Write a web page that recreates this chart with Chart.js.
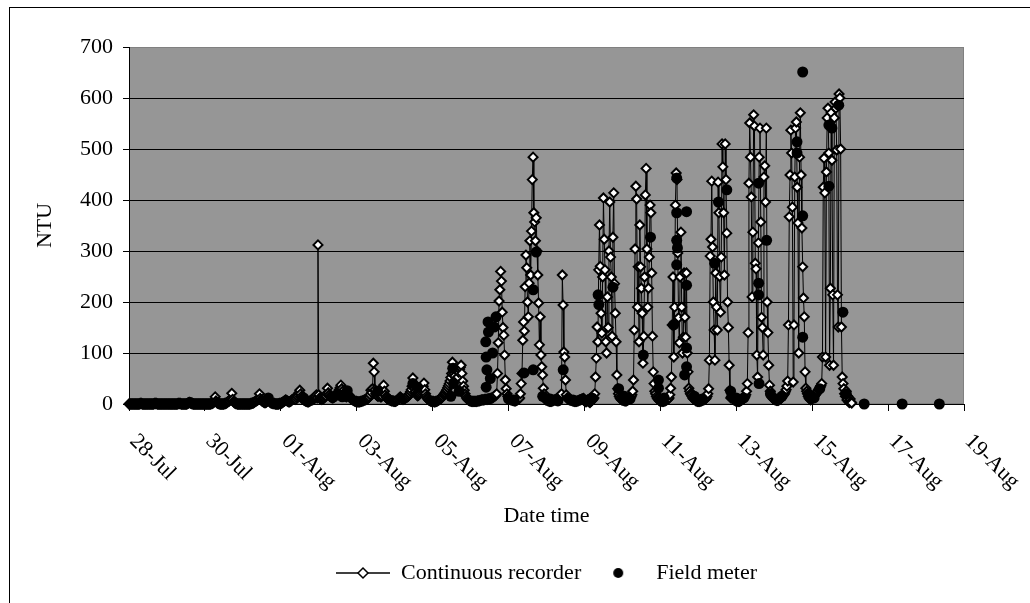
<!DOCTYPE html>
<html>
<head>
<meta charset="utf-8">
<title>Turbidity</title>
<script src="https://cdn.jsdelivr.net/npm/chart.js"></script>
<style>
  html, body { margin: 0; padding: 0; background: #fff; }
  #wrap { position: relative; width: 1030px; height: 603px; overflow: hidden; }
  #frame { position: absolute; left: 9px; top: 7px; width: 1100px; height: 700px; border: 1px solid #000; }
  #myChart { position: absolute; left: 0; top: 0; }
</style>
</head>
<body>
<div id="wrap">
  <div id="frame"></div>
  <canvas id="myChart" width="1030" height="603"></canvas>
</div>
<script>
// x values are days counted from 28-Jul 00:00
const tickLabels = ['28-Jul', '30-Jul', '01-Aug', '03-Aug', '05-Aug', '07-Aug',
                    '09-Aug', '11-Aug', '13-Aug', '15-Aug', '17-Aug', '19-Aug'];

// continuous recorder, one reading every 30 min from 28-Jul 00:00
const recorderStepDays = 1 / 48;
const recorderNTU = [
  /* 28-Jul */ 0,0,0,0,0,0,0,0, 0,0,0,0,0,0,1,1, 1,0,0,0,0,0,0,0, 0,0,0,0,0,0,0,0, 1,1,1,1,0,0,0,0, 0,0,0,0,0,0,0,0,
  /* 29-Jul */ 0,0,0,0,0,0,0,0, 0,0,0,0,0,0,1,1, 1,1,0,0,0,0,0,0, 0,0,1,2,3,3,2,1, 1,0,0,0,0,0,0,0, 0,0,0,0,0,0,0,0,
  /* 30-Jul */ 0,0,0,0,0,0,0,0, 1,1,2,3,5,14,6,3, 2,1,1,0,0,0,0,0, 0,1,1,2,3,4,5,6, 8,10,21,9,5,3,2,1, 1,0,0,0,0,0,0,0,
  /* 31-Jul */ 0,0,0,0,0,0,0,0, 0,0,1,1,2,2,3,4, 5,6,7,8,10,20,11,8, 6,5,4,3,3,3,4,6, 8,6,4,3,2,2,1,1, 1,0,0,0,0,0,1,1,
  /* 01-Aug */ 1,2,3,4,5,6,8,7, 6,5,4,4,5,6,8,9, 10,11,10,9,12,15,18,22, 27,20,15,12,10,8,7,6, 5,5,4,4,5,6,7,8, 8,9,10,12,14,18,12,312,
  /* 02-Aug */ 18,12,10,9,9,10,11,12, 14,16,20,31,22,18,15,14, 13,12,12,13,14,15,16,18, 20,24,28,32,37,30,25,20, 18,16,15,14,16,17,18,15, 12,10,9,8,7,6,5,5,
  /* 03-Aug */ 5,4,4,4,4,5,5,6, 6,7,8,8,9,10,11,12, 14,18,27,22,30,80,63,28, 20,18,16,15,24,18,14,14, 16,22,37,25,18,14,12,10, 9,8,8,7,6,6,6,5,
  /* 04-Aug */ 5,5,6,7,8,10,12,14, 12,10,9,9,10,11,12,13, 14,15,17,20,24,28,35,51, 38,30,24,20,18,16,17,19, 22,25,28,31,35,41,28,20, 15,12,10,8,7,6,5,5,
  /* 05-Aug */ 5,5,4,4,5,5,6,7, 8,9,10,12,13,15,18,20, 22,25,28,32,36,40,45,52, 60,82,70,60,55,48,44,40, 53,62,68,72,76,60,45,35, 27,20,15,12,10,8,7,6,
  /* 06-Aug */ 6,5,5,5,5,5,5,5, 5,6,6,6,7,7,8,8, 8,8,9,9,9,9,10,10, 10,11,11,12,12,14,15,16, 17,20,60,120,202,224,260,241, 180,150,135,96,47,30,20,15,
  /* 07-Aug */ 12,10,9,8,8,7,7,6, 6,6,7,8,9,10,12,20, 40,60,125,161,143,230,292,267, 200,171,237,320,253,339,440,484, 375,357,320,365,300,253,198,116, 171,96,73,57,31,20,12,8,
  /* 08-Aug */ 8,7,6,6,5,5,5,6, 6,7,8,8,9,10,10,11, 12,13,15,20,253,194,102,92, 47,18,12,10,9,8,8,7, 7,6,6,5,5,5,5,6, 6,7,8,8,9,10,10,11,
  /* 09-Aug */ 6,5,4,6,8,5,4,3, 5,6,8,10,12,20,53,90, 151,122,263,351,270,178,139,249, 404,323,263,122,100,210,150,300, 396,288,249,133,327,414,236,178, 122,57,30,20,15,12,10,8,
  /* 10-Aug */ 8,7,7,6,6,6,7,8, 9,10,12,14,18,25,47,145, 304,427,402,190,269,122,351,269, 227,178,80,133,249,410,462,304, 190,227,288,390,375,257,133,63, 40,25,20,15,12,10,8,6,
  /* 11-Aug */ 6,6,5,5,5,6,6,7, 8,9,10,12,18,31,53,155, 249,92,190,390,453,440,296,169, 120,249,337,190,100,131,257,170, 131,257,100,63,31,25,20,18, 15,12,10,12,8,6,6,5,
  /* 12-Aug */ 5,5,5,6,6,7,8,8, 9,10,12,15,20,30,86,290, 323,437,308,200,145,86,257,190, 145,435,375,250,180,288,510,465, 375,253,510,440,335,200,150,76, 27,12,15,12,10,8,8,6,
  /* 13-Aug */ 6,6,5,5,5,6,7,8, 9,10,12,14,18,25,40,140, 433,551,484,406,210,337,567,545, 276,265,96,53,316,484,541,357, 170,150,96,445,467,396,541,200, 140,76,37,25,18,14,12,10,
  /* 14-Aug */ 9,8,8,7,7,7,8,9, 10,12,14,16,18,20,24,28, 35,45,155,367,449,537,492,386, 43,155,445,541,553,425,355,100, 484,571,449,345,269,208,171,63, 31,25,20,15,12,10,8,10,
  /* 15-Aug */ 10,12,14,16,18,20,22,25, 28,30,33,36,40,92,425,482, 414,92,455,561,580,492,76,227, 571,478,214,76,561,592,580,498, 214,151,608,600,500,151,53,40, 30,20,15,25,8,15,5,3,
  /* 16-Aug */ 10,4,2
];

// field meter readings: [day, NTU]
const fieldMeter = [
  [1.61, 3], [3.67, 12], [4.6, 12], [5.5, 20], [5.62, 14], [5.75, 26], [6.55, 25],
  [7.48, 40], [7.6, 33], [8.48, 15], [8.53, 70], [8.55, 40], [8.7, 25],
  [9.40, 122], [9.41, 92], [9.43, 67], [9.41, 33], [9.46, 161], [9.47, 141],
  [9.62, 151], [9.67, 171], [9.58, 100], [9.52, 50],
  [10.0, 10], [10.15, 8], [10.41, 61], [10.65, 67], [10.65, 224], [10.73, 298], [10.9, 15],
  [11.1, 10], [11.3, 6], [11.44, 67], [11.7, 8], [12.0, 8], [12.2, 12],
  [12.36, 214], [12.38, 195], [12.75, 229], [12.9, 30], [13.05, 15], [13.2, 10],
  [13.55, 96], [13.74, 327], [13.95, 47], [13.95, 31], [14.1, 12],
  [14.35, 155], [14.43, 443], [14.43, 375], [14.43, 321], [14.45, 306], [14.43, 273],
  [14.69, 377], [14.69, 233], [14.69, 110], [14.69, 73], [14.64, 57], [14.9, 15], [15.1, 10],
  [15.43, 276], [15.53, 396], [15.75, 420], [15.85, 25], [16.0, 12], [16.2, 12],
  [16.59, 433], [16.8, 321], [16.59, 237], [16.59, 214], [16.6, 40], [16.9, 20], [17.05, 10], [17.2, 15],
  [17.6, 514], [17.6, 492], [17.75, 651], [17.75, 369], [17.75, 131], [17.9, 20], [18.05, 12], [18.2, 30],
  [18.44, 547], [18.52, 541], [18.7, 586], [18.44, 427], [18.81, 180], [18.9, 20],
  [19.37, 0], [20.37, 0], [21.35, 0]
];

const recorderPoints = recorderNTU.map((v, i) => ({ x: i * recorderStepDays, y: v }));
const fieldPoints = fieldMeter.map(([d, v]) => ({ x: d, y: v }));

// small canvases used as legend keys
function legendKey(draw) {
  const c = document.createElement('canvas');
  c.width = 54;
  c.height = 14;
  draw(c.getContext('2d'));
  return c;
}
const recorderKey = legendKey(g => {
  g.strokeStyle = '#000';
  g.lineWidth = 1.5;
  g.beginPath(); g.moveTo(0, 7); g.lineTo(54, 7); g.stroke();
  g.beginPath();
  g.moveTo(22, 7); g.lineTo(27, 2); g.lineTo(32, 7); g.lineTo(27, 12); g.closePath();
  g.fillStyle = '#fff'; g.fill(); g.stroke();
});
const fieldKey = legendKey(g => {
  g.fillStyle = '#000';
  g.beginPath(); g.arc(27, 7, 5, 0, Math.PI * 2); g.fill();
});

// grey plot area with a thin border
const plotBackground = {
  id: 'plotBackground',
  beforeDraw(chart) {
    const { ctx, chartArea: a } = chart;
    ctx.save();
    ctx.fillStyle = '#969696';
    ctx.fillRect(a.left, a.top, a.right - a.left, a.bottom - a.top);
    ctx.strokeStyle = '#808080';
    ctx.lineWidth = 1;
    ctx.strokeRect(a.left + 0.5, a.top + 0.5, a.right - a.left - 1, a.bottom - a.top - 1);
    ctx.restore();
  }
};

// date labels slanted downwards, starting at their tick
const slantedDates = {
  id: 'slantedDates',
  afterDraw(chart) {
    const { ctx } = chart;
    const xs = chart.scales.x;
    ctx.save();
    ctx.font = "22px 'Liberation Serif'";
    ctx.fillStyle = '#000';
    ctx.textAlign = 'left';
    ctx.textBaseline = 'alphabetic';
    xs.ticks.forEach(t => {
      const label = tickLabels[Math.round(t.value / 2)];
      if (!label) return;
      ctx.save();
      ctx.translate(xs.getPixelForValue(t.value), xs.top + 38);
      ctx.rotate(Math.PI / 4);
      ctx.fillText(label, 0, 0);
      ctx.restore();
    });
    ctx.restore();
  }
};

Chart.defaults.font.family = "'Liberation Serif', 'Times New Roman', serif";
Chart.defaults.font.size = 22;
Chart.defaults.color = '#000';

const ctx = document.getElementById('myChart');

new Chart(ctx, {
  type: 'scatter',
  data: {
    datasets: [{
      label: 'Continuous recorder',
      data: recorderPoints,
      showLine: true,
      borderColor: '#000',
      borderWidth: 1,
      pointStyle: 'rectRot',
      pointRadius: 4.5,
      pointBackgroundColor: '#fff',
      pointBorderColor: '#000',
      pointBorderWidth: 2,
      order: 1,
      clip: 8
    }, {
      label: 'Field meter',
      data: fieldPoints,
      showLine: false,
      pointStyle: 'circle',
      pointRadius: 5.5,
      pointBackgroundColor: '#000',
      pointBorderColor: '#000',
      pointBorderWidth: 0,
      order: 0,
      clip: 8
    }]
  },
  options: {
    responsive: false,
    animation: false,
    layout: { padding: { top: 47, right: 66, bottom: 9, left: 0 } },
    scales: {
      x: {
        type: 'linear',
        min: 0,
        max: 22,
        ticks: { stepSize: 2, display: false },
        grid: { drawOnChartArea: false, drawTicks: true, tickLength: 7, tickColor: '#000' },
        border: { color: '#000', width: 1 },
        title: { display: true, text: 'Date time', padding: { top: 0, bottom: 23 } },
        afterFit(scale) { scale.height = 148; }
      },
      y: {
        min: 0,
        max: 700,
        ticks: { stepSize: 100, padding: 10 },
        grid: {
          color: c => (c.tick && c.tick.value === 700 ? 'rgba(0,0,0,0)' : '#000'),
          tickColor: '#000',
          tickLength: 6
        },
        border: { color: '#000', width: 1 },
        title: { display: true, text: 'NTU', padding: { top: 32 } },
        afterFit(scale) { scale.width = 129; }
      }
    },
    plugins: {
      legend: {
        position: 'bottom',
        fullSize: false,
        labels: {
          usePointStyle: true,
          pointStyleWidth: 54,
          padding: 10,
          generateLabels(chart) {
            const items = Chart.defaults.plugins.legend.labels.generateLabels(chart);
            items.forEach(it => { it.pointStyle = it.datasetIndex === 0 ? recorderKey : fieldKey; });
            return items.sort((a, b) => a.datasetIndex - b.datasetIndex);
          }
        }
      },
      tooltip: { enabled: false }
    }
  },
  plugins: [plotBackground, slantedDates]
});
</script>
</body>
</html>
